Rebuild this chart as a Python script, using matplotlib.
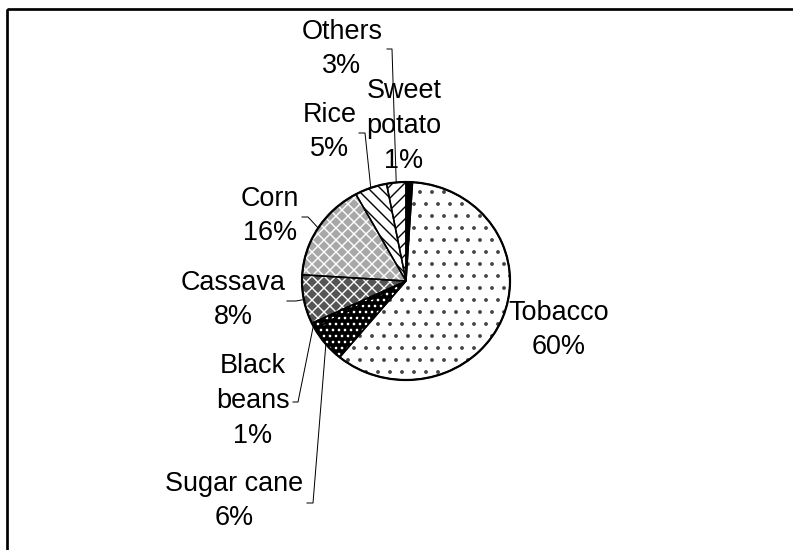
import numpy as np
import matplotlib
matplotlib.use('Agg')
import matplotlib.pyplot as plt
from matplotlib.patches import Rectangle

# crop shares, clockwise from 12 o'clock
crops = ['Sweet\npotato', 'Tobacco', 'Sugar cane', 'Black\nbeans', 'Cassava', 'Corn', 'Rice', 'Others']
shares = [1, 60, 6, 1, 8, 16, 5, 3]

faces = ['black', 'white', 'black', 'black', '#555555', '#a8a8a8', 'white', 'white']
hatch_cols = ['black', '#444444', 'white', 'white', 'white', 'white', 'black', 'black']
hatches = [None, '.', '..', '..', 'xx', 'xx', '\\\\', '//']

# label block centres and leader elbows (pixels, y down)
label_pos = [(404, 126), (559, 330), (234, 501), (253, 401), (233, 300), (270, 216), (330, 132), (342, 49)]
elbows = [None, None, (313, 503), (298, 402), (296, 301), (308, 217), (365, 133), (392, 49)]
tick_ends = [None, None, (307, 503), (293, 402), (287, 301), (302, 217), (359, 133), (387, 49)]

W, H = 793, 550
plt.rcParams['font.family'] = ['Liberation Sans', 'DejaVu Sans']
plt.rcParams['hatch.linewidth'] = 1.4

fig = plt.figure(figsize=(W / 72, H / 72), dpi=72)

# pie centre and radii in pixels (slightly wider than tall)
cx, cy, rx, ry = 406, 281, 104, 99
ax = fig.add_axes([(cx - rx) / W, (H - cy - ry) / H, 2 * rx / W, 2 * ry / H])
wedges, _ = ax.pie(shares, startangle=90, counterclock=False, radius=1,
                   wedgeprops=dict(linewidth=0))
for w, fc, hc, hp in zip(wedges, faces, hatch_cols, hatches):
    w.set_facecolor(fc)
    w.set_edgecolor(hc)
    w.set_hatch(hp)
    w.set_clip_on(False)
outl, _ = ax.pie(shares, startangle=90, counterclock=False, radius=1,
                 wedgeprops=dict(fill=False, edgecolor='black', linewidth=1.5))
for w in outl:
    w.set_clip_on(False)
# thicker rim around the whole pie
rim, _ = ax.pie([sum(shares)], radius=1, wedgeprops=dict(fill=False, edgecolor='black', linewidth=2.2))
rim[0].set_clip_on(False)
ax.set_aspect('auto')
ax.set_xlim(-1, 1)
ax.set_ylim(-1, 1)
ax.axis('off')

# overlay in pixel coordinates for labels, leaders and frame
ov = fig.add_axes([0, 0, 1, 1], zorder=-1)
ov.set_xlim(0, W)
ov.set_ylim(H, 0)
ov.axis('off')
ov.add_patch(Rectangle((7.2, 8.7), W + 20, H + 20, fill=False, edgecolor='black', linewidth=2.7, clip_on=False))

cum = np.concatenate([[0], np.cumsum(shares)])
for i, (name, pct) in enumerate(zip(crops, shares)):
    lx, ly = label_pos[i]
    ov.text(lx, ly, f'{name}\n{pct}%', ha='center', va='center', multialignment='center',
            fontsize=27, linespacing=1.43)
    if elbows[i] is None:
        continue
    mid = np.deg2rad(90 - 3.6 * (cum[i] + cum[i + 1]) / 2)
    px, py = cx + rx * np.cos(mid), cy - ry * np.sin(mid)
    ex, ey = elbows[i]
    tx, ty = tick_ends[i]
    ov.plot([px, ex, tx], [py, ey, ty], color='black', linewidth=1)

fig.savefig('out.png', dpi=72)
